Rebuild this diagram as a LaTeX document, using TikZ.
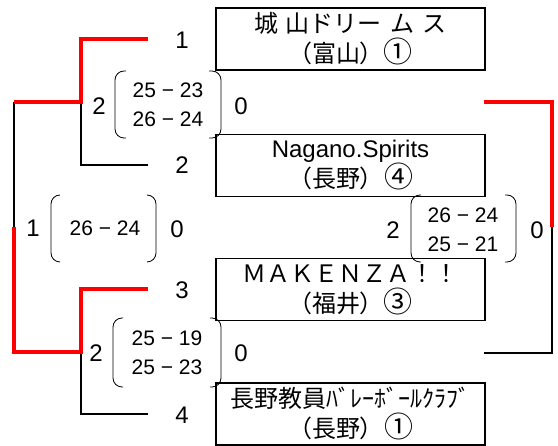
\documentclass[tikz,border=0pt]{standalone}
\usepackage{fontspec}
\setmainfont{Liberation Sans}
\newfontfamily\jp{Noto Sans CJK JP}
\usepackage{xcolor}
\definecolor{winred}{HTML}{ff0000}
\newcommand\cnum[1]{{\fontsize{29}{30}\selectfont#1}}

\begin{document}
\begin{tikzpicture}[x=1pt,y=-1pt,
  team/.style={draw,line width=1.6pt,minimum width=269pt,minimum height=62pt,
    inner sep=0pt,align=center,font=\fontsize{24}{30}\selectfont},
  seed/.style={font=\fontsize{24}{28}\selectfont},
  score/.style={align=center,font=\fontsize{21}{29}\selectfont},
  win/.style={line width=3.2pt,winred},
  lose/.style={line width=1.3pt},
  paren/.style={line width=0.8pt,rounded corners=9pt}]
\useasboundingbox (0,0) rectangle (558,446);

% teams
\node[team] (t1) at (350.5,39) {{\jp 城\hspace{0.3em}山ドリー\hspace{0.35em}ム\hspace{0.35em}ス}\\{\jp （富山）\cnum{①}}};
\node[team] (t2) at (350.5,165.5) {Nagano.Spirits\\{\jp （長野）\cnum{④}}};
\node[team] (t3) at (350.5,289.5) {{\jp ＭＡＫＥＮＺＡ！！}\\{\jp （福井）\cnum{③}}};
\node[team] (t4) at (350.5,414) {{\jp 長野教員ﾊﾞﾚｰﾎﾞｰﾙｸﾗﾌﾞ}\\{\jp （長野）\cnum{①}}};

% draw numbers
\node[seed] (n1) at (182,40) {1};
\node[seed] (n2) at (182,165) {2};
\node[seed] (n3) at (182,290) {3};
\node[seed] (n4) at (182,415) {4};

\coordinate (e1) at (148,39);
\coordinate (e2) at (148,165);
\coordinate (e3) at (148,289);
\coordinate (e4) at (148,414);
\coordinate (j1) at (81,102);
\coordinate (j2) at (81,352);
\coordinate (ot) at (14,102);
\coordinate (om) at (14,227);
\coordinate (ob) at (14,352);
\coordinate (rt) at (484,102);
\coordinate (rm) at (552,227);
\coordinate (rb) at (484,353);

% bracket lines
\draw[lose] (e2) -| (j1);
\draw[lose] (e4) -| (j2);
\draw[lose] (ot) -- (om);
\draw[lose] (rm) |- (rb);
\draw[win] (e1) -| (j1) -- (ot);
\draw[win] (e3) -| (j2) -- (ob) -- (om);
\draw[win] (rt) -| (rm);

% semi final 1
\node[seed] (wa) at (99,106) {2};
\node[seed] (la) at (241,106) {0};
\node[score] (sa) at (168,105) {25 − 23\\26 − 24};
\draw[paren] (126,71) -- (115,71) -- (115,138) -- (126,138);
\draw[paren] (209,71) -- (221,71) -- (221,138) -- (209,138);

% semi final 2
\node[seed] (wb) at (96,353) {2};
\node[seed] (lb) at (241,353) {0};
\node[score] (sb) at (167,353) {25 − 19\\25 − 23};
\draw[paren] (123,318) -- (113,318) -- (113,387) -- (123,387);
\draw[paren] (210,318) -- (221,318) -- (221,387) -- (210,387);

% final
\node[seed] (wc) at (33,228) {1};
\node[seed] (lc) at (177,229) {0};
\node[score] (sc) at (105,228) {26 − 24};
\draw[paren] (60,195) -- (51,195) -- (51,262) -- (60,262);
\draw[paren] (147,195) -- (156,195) -- (156,262) -- (147,262);

% third place
\node[seed] (wd) at (393,230) {2};
\node[seed] (ld) at (537,230) {0};
\node[score] (sd) at (463,230) {26 − 24\\25 − 21};
\draw[paren] (421,195) -- (411,195) -- (411,262) -- (421,262);
\draw[paren] (505,195) -- (516,195) -- (516,262) -- (505,262);
\end{tikzpicture}
\end{document}
